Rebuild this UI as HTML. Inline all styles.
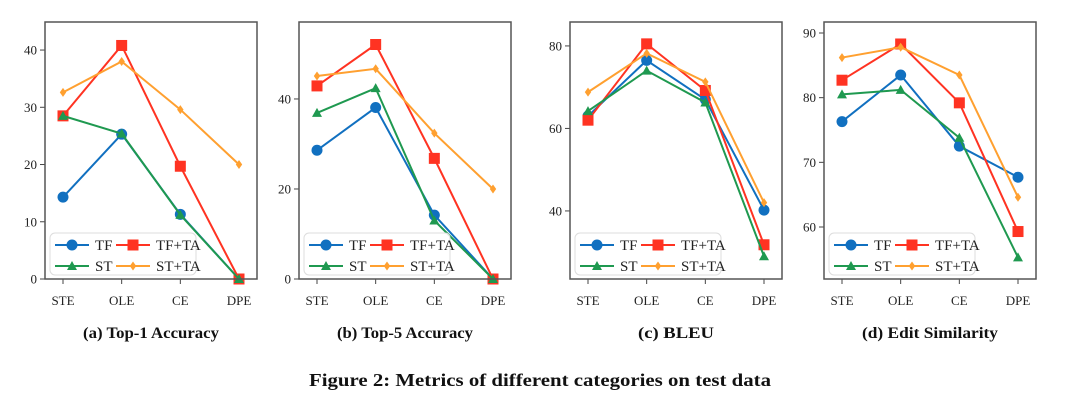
<!DOCTYPE html>
<html><head><meta charset="utf-8"><style>
html,body{margin:0;padding:0;background:#fff;}
svg{display:block;font-family:"Liberation Serif",serif;}
</style></head><body>
<svg id="fig" width="1080" height="401" viewBox="0 0 1080 401" xmlns="http://www.w3.org/2000/svg"></svg>
<script>
const categories = ["STE","OLE","CE","DPE"];
const seriesNames = ["TF","TF+TA","ST","ST+TA"];
const top1TF=[14.3,25.3,11.3,0], top1TFTA=[28.5,40.8,19.7,0], top1ST=[28.5,25.4,11.2,0], top1STTA=[32.6,38,29.6,20];
const top5TF=[28.6,38.1,14.2,0], top5TFTA=[42.9,52.1,26.8,0], top5ST=[36.9,42.4,13,0], top5STTA=[45.1,46.7,32.4,20];
const bleuTF=[63,76.5,67,40.2], bleuTFTA=[62,80.5,69.2,31.8], bleuST=[64.2,74,66.3,29], bleuSTTA=[68.8,78.2,71.3,42];
const editTF=[76.3,83.5,72.5,67.7], editTFTA=[82.7,88.3,79.2,59.3], editST=[80.5,81.2,73.8,55.3], editSTTA=[86.2,87.8,83.5,64.6];
const top1Ticks=[0,10,20,30,40], top5Ticks=[0,20,40], bleuTicks=[40,60,80], editTicks=[60,70,80,90];
const titles=["(a) Top-1 Accuracy","(b) Top-5 Accuracy","(c) BLEU","(d) Edit Similarity"];
const titleW=[136,136,76,136];

const NS="http://www.w3.org/2000/svg";
const svg=document.getElementById('fig');
function mk(tag,attrs,parent){const e=document.createElementNS(NS,tag);for(const k in attrs)e.setAttribute(k,attrs[k]);(parent||svg).appendChild(e);return e;}
const colors=["#1170c0","#ff3322","#1f9950","#ffa030"];
const panels=[
 {x0:45,x1:257,ymin:0,ymax:44.9,ticks:top1Ticks,data:[top1TF,top1TFTA,top1ST,top1STTA],key:"top1"},
 {x0:299,x1:511,ymin:0,ymax:57.1,ticks:top5Ticks,data:[top5TF,top5TFTA,top5ST,top5STTA],key:"top5"},
 {x0:570,x1:782,ymin:23.5,ymax:85.8,ticks:bleuTicks,data:[bleuTF,bleuTFTA,bleuST,bleuSTTA],key:"bleu"},
 {x0:824,x1:1036,ymin:51.96,ymax:91.7,ticks:editTicks,data:[editTF,editTFTA,editST,editSTTA],key:"edit"}
];
const yTop=22,yBot=279;
function marker(g,s,x,y,c){
  if(s===0) return mk('circle',{cx:x,cy:y,r:5.5,fill:c},g);
  if(s===1) return mk('rect',{x:x-5.5,y:y-5.5,width:11,height:11,fill:c},g);
  if(s===2) return mk('polygon',{points:`${x},${y-5} ${x-5},${y+4} ${x+5},${y+4}`,fill:c},g);
  return mk('polygon',{points:`${x},${y-4.5} ${x-3.2},${y} ${x},${y+4.5} ${x+3.2},${y}`,fill:c},g);
}
panels.forEach((p,pi)=>{
  const g=mk('g',{});
  
  
  const sx=i=>p.x0+18+i*(p.x1-p.x0-36)/(categories.length-1);
  const sy=v=>yBot-(v-p.ymin)/(p.ymax-p.ymin)*(yBot-yTop);
  p.ticks.forEach(t=>{
    const y=sy(t);
    const l=mk('line',{x1:p.x0-5,x2:p.x0,y1:y,y2:y,stroke:'#444','stroke-width':1},g);
    
    const tx=mk('text',{x:p.x0-8,y:y+4.5,'text-anchor':'end','font-size':13,fill:'#222'},g);
    tx.textContent=t;
    
  });
  categories.forEach((c,i)=>{
    const x=sx(i);
    mk('line',{x1:x,x2:x,y1:yBot,y2:yBot+5,stroke:'#444','stroke-width':1},g);
    const tx=mk('text',{x:x,y:305,'text-anchor':'middle','font-size':13,fill:'#222'},g);
    tx.textContent=c;
    
  });
  p.data.forEach((d,si)=>{
    const sg=mk('g',{},g);
    
    
    mk('polyline',{points:d.map((v,i)=>sx(i)+','+sy(v)).join(' '),fill:'none',stroke:colors[si],'stroke-width':2},sg);
    d.forEach((v,i)=>{const m=marker(sg,si,sx(i),sy(v),colors[si]);
      });
  });
  const fr=mk('rect',{x:p.x0,y:yTop,width:p.x1-p.x0,height:yBot-yTop,fill:'none',stroke:'#555','stroke-width':1.5},g);
  
  const lg=mk('g',{},g);
  
  const lx=p.x0+5,ly=233;
  mk('rect',{x:lx,y:ly,width:146,height:42,rx:5,fill:'#fff','fill-opacity':0.85,stroke:'#ddd'},lg);
  seriesNames.forEach((n,si)=>{
    const col=si%2,row=Math.floor(si/2);
    const x=lx+5+col*61,y=ly+12+row*21;
    const eg=mk('g',{},lg);
    
    mk('line',{x1:x,x2:x+34,y1:y,y2:y,stroke:colors[si],'stroke-width':2},eg);
    marker(eg,si,x+17,y,colors[si]);
    const t=mk('text',{x:x+40,y:y+5,'font-size':15,fill:'#222'},eg);
    t.textContent=n;
  });
  const tt=mk('text',{x:(p.x0+p.x1)/2,y:338,'text-anchor':'middle','font-size':16,'font-weight':'bold',fill:'#111',textLength:titleW[pi],lengthAdjust:'spacingAndGlyphs'},g);
  tt.textContent=titles[pi];
  
});
const cap=mk('text',{x:540,y:386,'text-anchor':'middle','font-size':18,'font-weight':'bold',fill:'#111',textLength:462,lengthAdjust:'spacingAndGlyphs'});
cap.textContent="Figure 2: Metrics of different categories on test data";


</script>
</body></html>
